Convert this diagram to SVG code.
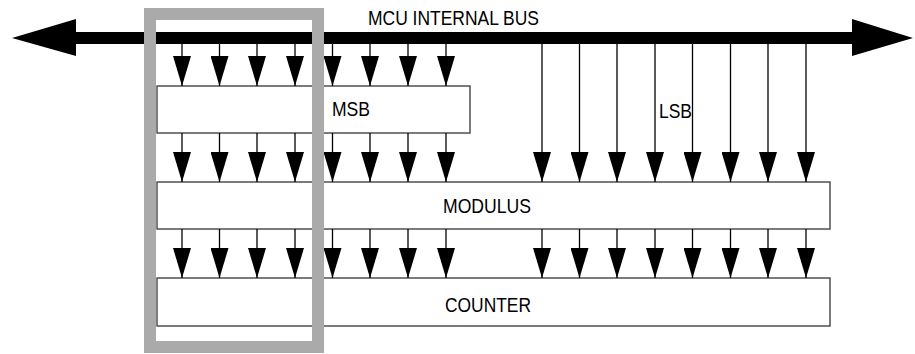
<svg xmlns="http://www.w3.org/2000/svg" width="915" height="354" viewBox="0 0 915 354">
<style>
.box{fill:#fff;stroke:#444;stroke-width:1.4}
.lbl{font-family:"Liberation Sans Narrow","Liberation Sans",Arial,sans-serif;font-size:21px;fill:#000}
.ar{stroke:#000;stroke-width:1.3;fill:none;marker-end:url(#ah)}
</style>
<defs>
<marker id="ah" viewBox="0 0 30 18" refX="30" refY="9" markerWidth="30" markerHeight="18" orient="auto" markerUnits="userSpaceOnUse">
<path d="M0,0 L30,9 L0,18 z" fill="#000"/>
</marker>
</defs>
<rect width="915" height="354" fill="#fff"/>
<g id="bus">
<rect x="74" y="32" width="780" height="12" fill="#000"/>
<polygon points="12,38 76,19 76,56" fill="#000"/>
<polygon points="913,38 852,19 852,56" fill="#000"/>
<text class="lbl" x="368" y="25" textLength="171" lengthAdjust="spacingAndGlyphs">MCU INTERNAL BUS</text>
</g>
<g id="msb">
<rect class="box" x="157" y="86" width="313" height="47"/>
<text class="lbl" x="332" y="116" textLength="38" lengthAdjust="spacingAndGlyphs">MSB</text>
</g>
<g id="modulus">
<rect class="box" x="157" y="182" width="673" height="47"/>
<text class="lbl" x="443" y="213" textLength="88" lengthAdjust="spacingAndGlyphs">MODULUS</text>
</g>
<g id="counter">
<rect class="box" x="157" y="278" width="673" height="48"/>
<text class="lbl" x="445" y="312" textLength="86" lengthAdjust="spacingAndGlyphs">COUNTER</text>
</g>
<g id="lsb">
<text class="lbl" x="659" y="118" textLength="33" lengthAdjust="spacingAndGlyphs">LSB</text>
</g>
<g id="connectors">
<line class="ar" x1="182" y1="44" x2="182" y2="86"/>
<line class="ar" x1="219.5" y1="44" x2="219.5" y2="86"/>
<line class="ar" x1="257" y1="44" x2="257" y2="86"/>
<line class="ar" x1="295" y1="44" x2="295" y2="86"/>
<line class="ar" x1="332.5" y1="44" x2="332.5" y2="86"/>
<line class="ar" x1="370" y1="44" x2="370" y2="86"/>
<line class="ar" x1="408" y1="44" x2="408" y2="86"/>
<line class="ar" x1="446" y1="44" x2="446" y2="86"/>
<line class="ar" x1="182" y1="133" x2="182" y2="182"/>
<line class="ar" x1="219.5" y1="133" x2="219.5" y2="182"/>
<line class="ar" x1="257" y1="133" x2="257" y2="182"/>
<line class="ar" x1="295" y1="133" x2="295" y2="182"/>
<line class="ar" x1="332.5" y1="133" x2="332.5" y2="182"/>
<line class="ar" x1="370" y1="133" x2="370" y2="182"/>
<line class="ar" x1="408" y1="133" x2="408" y2="182"/>
<line class="ar" x1="446" y1="133" x2="446" y2="182"/>
<line class="ar" x1="542" y1="44" x2="542" y2="182"/>
<line class="ar" x1="579.5" y1="44" x2="579.5" y2="182"/>
<line class="ar" x1="617" y1="44" x2="617" y2="182"/>
<line class="ar" x1="655" y1="44" x2="655" y2="182"/>
<line class="ar" x1="692.5" y1="44" x2="692.5" y2="182"/>
<line class="ar" x1="730.5" y1="44" x2="730.5" y2="182"/>
<line class="ar" x1="768" y1="44" x2="768" y2="182"/>
<line class="ar" x1="806" y1="44" x2="806" y2="182"/>
<line class="ar" x1="182" y1="229" x2="182" y2="278"/>
<line class="ar" x1="219.5" y1="229" x2="219.5" y2="278"/>
<line class="ar" x1="257" y1="229" x2="257" y2="278"/>
<line class="ar" x1="295" y1="229" x2="295" y2="278"/>
<line class="ar" x1="332.5" y1="229" x2="332.5" y2="278"/>
<line class="ar" x1="370" y1="229" x2="370" y2="278"/>
<line class="ar" x1="408" y1="229" x2="408" y2="278"/>
<line class="ar" x1="446" y1="229" x2="446" y2="278"/>
<line class="ar" x1="542" y1="229" x2="542" y2="278"/>
<line class="ar" x1="579.5" y1="229" x2="579.5" y2="278"/>
<line class="ar" x1="617" y1="229" x2="617" y2="278"/>
<line class="ar" x1="655" y1="229" x2="655" y2="278"/>
<line class="ar" x1="692.5" y1="229" x2="692.5" y2="278"/>
<line class="ar" x1="730.5" y1="229" x2="730.5" y2="278"/>
<line class="ar" x1="768" y1="229" x2="768" y2="278"/>
<line class="ar" x1="806" y1="229" x2="806" y2="278"/>
</g>
<g id="highlight">
<rect x="150" y="14" width="168" height="333" fill="none" stroke="#aaaaaa" stroke-width="12"/>
</g>
</svg>
